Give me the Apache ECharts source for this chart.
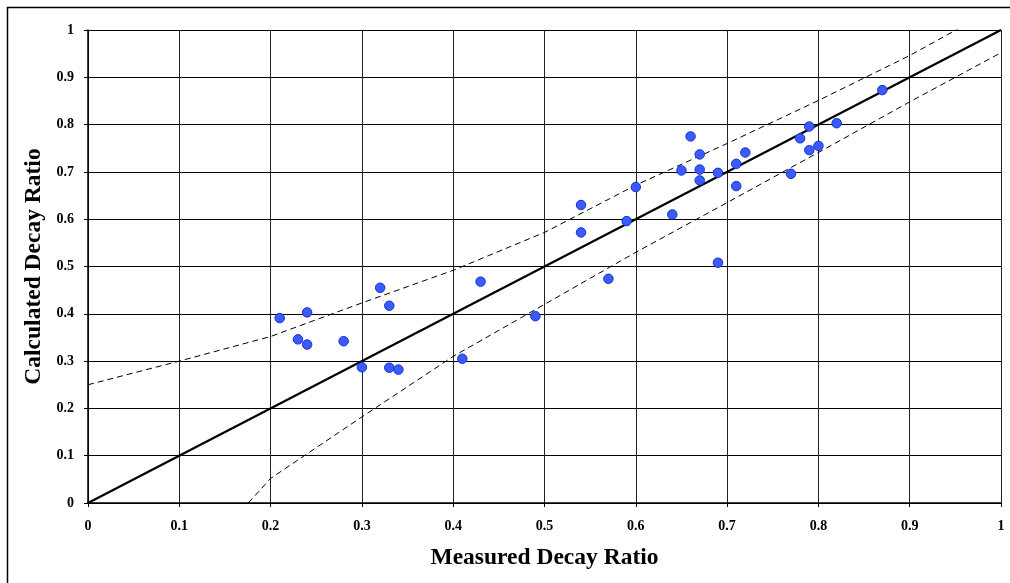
<!DOCTYPE html>
<html>
<head>
<meta charset="utf-8">
<script src="https://cdn.jsdelivr.net/npm/echarts@6/dist/echarts.min.js"></script>
<style>
  html, body { margin: 0; padding: 0; background: #fff; }
  #chart { width: 1010px; height: 583px; }
</style>
</head>
<body>
<div id="chart"></div>
<script>
// measured vs calculated decay ratio points
const measured = [0.21, 0.23, 0.24, 0.24, 0.28, 0.30, 0.32, 0.33, 0.33, 0.34, 0.41, 0.43,
  0.49, 0.54, 0.54, 0.57, 0.59, 0.60, 0.64, 0.65, 0.66, 0.67, 0.67, 0.67, 0.69, 0.69,
  0.71, 0.71, 0.72, 0.77, 0.78, 0.79, 0.79, 0.80, 0.82, 0.87];
const calculated = [0.391, 0.346, 0.403, 0.335, 0.342, 0.287, 0.455, 0.417, 0.286, 0.282, 0.305, 0.468,
  0.395, 0.630, 0.572, 0.474, 0.596, 0.668, 0.610, 0.703, 0.775, 0.737, 0.705, 0.682, 0.698, 0.508,
  0.717, 0.670, 0.741, 0.696, 0.771, 0.796, 0.746, 0.755, 0.803, 0.873];

// reference line y = x
const refX = [0, 1];
const refY = [0, 1];

// dashed bounds
const upperX = [0, 0.1, 0.2, 0.3, 0.4, 0.5, 0.6, 0.7, 0.8, 0.9, 0.96];
const upperY = [0.25, 0.30, 0.352, 0.423, 0.492, 0.572, 0.672, 0.760, 0.851, 0.946, 1.01];
const lowerX = [0.1756, 0.2, 0.3, 0.4, 0.5, 0.6, 0.7, 0.8, 0.9, 1.0];
const lowerY = [0, 0.052, 0.182, 0.310, 0.420, 0.530, 0.635, 0.741, 0.848, 0.952];

const zip = (xs, ys) => xs.map((x, i) => [x, ys[i]]);

const font = 'Liberation Serif';
const chart = echarts.init(document.getElementById('chart'));

const axisBase = {
  type: 'value',
  min: 0,
  max: 1,
  interval: 0.1,
  nameLocation: 'middle',
  nameTextStyle: { fontFamily: font, fontWeight: 'bold', fontSize: 23.5, color: '#000' },
  axisLine: { show: true, lineStyle: { color: '#000', width: 1.5 } },
  axisTick: { show: true, inside: false, length: 4, lineStyle: { color: '#000' } },
  axisLabel: { fontFamily: font, fontWeight: 'bold', fontSize: 14, color: '#000', margin: 14 },
  splitLine: { show: true, lineStyle: { color: '#222', width: 1 } }
};

chart.setOption({
  backgroundColor: '#fff',
  animation: false,
  graphic: [{
    type: 'rect',
    shape: { x: 7.5, y: 7.5, width: 1020, height: 600 },
    style: { fill: 'none', stroke: '#000', lineWidth: 1.5 },
    silent: true
  }],
  grid: { left: 88, top: 30, width: 913, height: 473 },
  xAxis: Object.assign({}, axisBase, {
    name: 'Measured Decay Ratio',
    nameGap: 43,
    axisLabel: Object.assign({}, axisBase.axisLabel, { margin: 16 })
  }),
  yAxis: Object.assign({}, axisBase, {
    name: 'Calculated Decay Ratio',
    nameGap: 41,
    splitLine: { show: true, lineStyle: { color: '#000', width: 1 } }
  }),
  series: [
    {
      type: 'line',
      data: zip(upperX, upperY),
      symbol: 'none',
      lineStyle: { color: '#000', width: 1, type: [6, 4] },
      silent: true
    },
    {
      type: 'line',
      data: zip(lowerX, lowerY),
      symbol: 'none',
      lineStyle: { color: '#000', width: 1, type: [6, 4] },
      silent: true
    },
    {
      type: 'line',
      data: zip(refX, refY),
      symbol: 'none',
      lineStyle: { color: '#000', width: 2.2 },
      silent: true
    },
    {
      type: 'scatter',
      data: zip(measured, calculated),
      symbolSize: 9.5,
      itemStyle: { color: '#3a5cff', borderColor: '#1a2fd0', borderWidth: 1, opacity: 1 },
      z: 5
    }
  ]
});
</script>
</body>
</html>
